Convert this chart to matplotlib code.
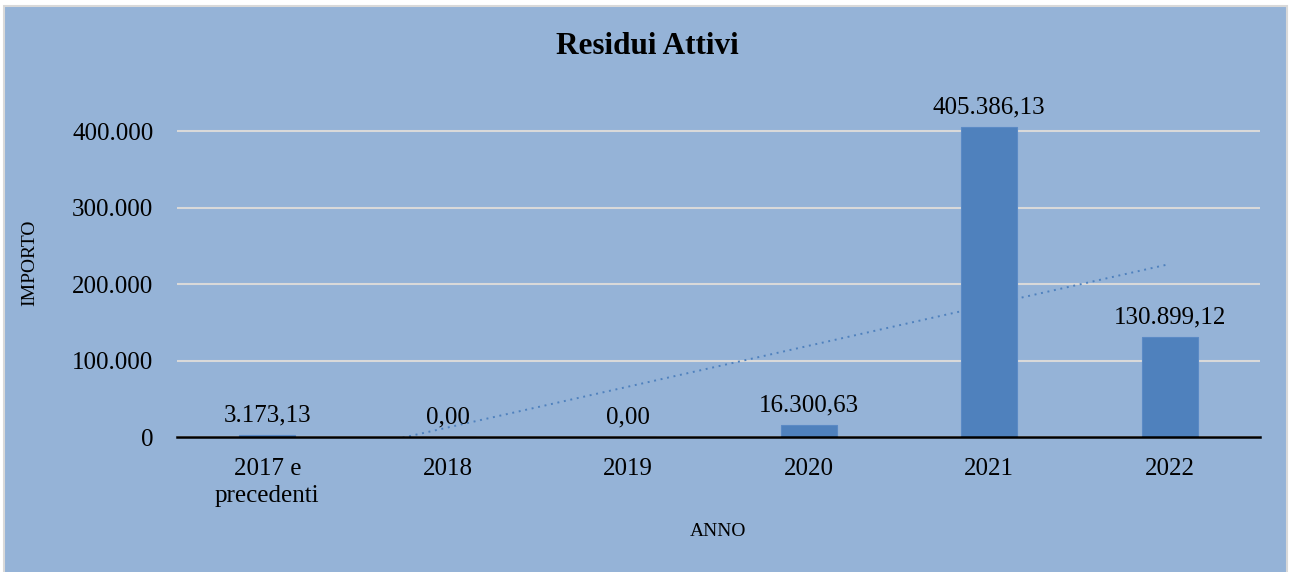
import matplotlib
matplotlib.use("Agg")
import matplotlib.pyplot as plt
from matplotlib.patches import Rectangle
from matplotlib.ticker import FuncFormatter
import numpy as np

categories = ["2017 e\nprecedenti", "2018", "2019", "2020", "2021", "2022"]
values = [3173.13, 0.0, 0.0, 16300.63, 405386.13, 130899.12]
value_labels = ["3.173,13", "0,00", "0,00", "16.300,63", "405.386,13", "130.899,12"]
yticks = [0, 100000, 200000, 300000, 400000]

plt.rcParams['font.family'] = ['Liberation Serif', 'DejaVu Serif']

W, H = 1289, 572
fig = plt.figure(figsize=(W / 100, H / 100), dpi=100, facecolor="white")
bg = "#95B3D7"
fig.patches.append(Rectangle((4 / W, -0.01), 1283 / W, 1 - 6 / H + 0.01,
                             transform=fig.transFigure, facecolor=bg,
                             edgecolor="#D9D9D9", linewidth=1.5, zorder=-10))

ax = fig.add_axes([177 / W, 135 / H, (1260 - 177) / W, (437 - 93) / H])
ax.set_facecolor(bg)
ax.patch.set_alpha(0)

x = np.arange(len(categories))
ax.bar(x, values, width=0.31, color="#4F81BD", edgecolor="#5B8AC5", linewidth=0.8, zorder=3)

fs = 18
for xi, v, lab in zip(x, values, value_labels):
    ax.text(xi, v + 11000, lab, ha="center", va="bottom", fontsize=fs, color="black", zorder=5)

# linear trendline
coef = np.polyfit(x, values, 1)
ax.plot(x, np.polyval(coef, x), linestyle=(0, (1, 2.4)), color="#4F81BD",
        linewidth=1.4, zorder=4)

ax.set_xlim(-0.5, len(categories) - 0.5)
ax.set_ylim(0, 450000)
ax.set_yticks(yticks)
ax.yaxis.set_major_formatter(FuncFormatter(lambda v, p: f"{int(v):,}".replace(",", ".")))
ax.grid(axis="y", color="#D9D9D9", linewidth=1.5, zorder=1)
ax.set_axisbelow(True)
ax.set_xticks(x)
ax.set_xticklabels(categories, fontsize=fs, linespacing=1.3)
ax.tick_params(axis="y", labelsize=fs, length=0, pad=17)
ax.tick_params(axis="x", length=0, pad=15)
for s in ["top", "right", "left"]:
    ax.spines[s].set_visible(False)
ax.spines["bottom"].set_color("black")
ax.spines["bottom"].set_linewidth(1.8)
ax.spines["bottom"].set_zorder(6)

fig.text(647 / W, 1 - 47 / H, "Residui Attivi", ha="center", va="center",
         fontsize=22.5, fontweight="bold")
fig.text(718 / W, 1 - 532 / H, "ANNO", ha="center", va="center", fontsize=14)
fig.text(30 / W, 1 - 263 / H, "IMPORTO", ha="center", va="center", fontsize=14,
         rotation=90)

fig.savefig("out.png", dpi=100, facecolor=fig.get_facecolor())
